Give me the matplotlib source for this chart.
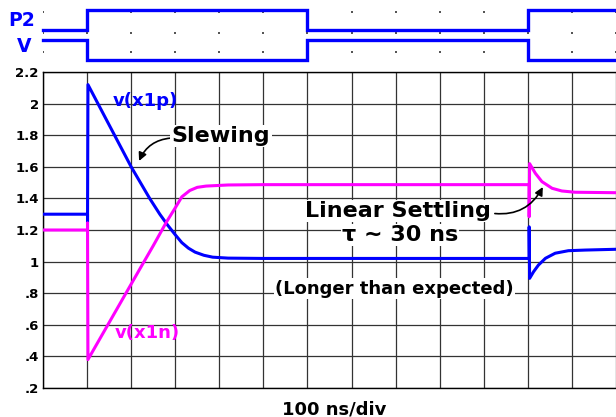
import matplotlib
matplotlib.use("Agg")
import matplotlib.pyplot as plt

plt.rcParams['font.family'] = ['DejaVu Sans']
plt.rcParams['font.weight'] = 'bold'

# control signals (logic levels), step changes in ns
ctrl_times = [0, 100, 600, 1100, 1300]
p2_level = [0, 1, 0, 1, 1]
v_level = [1, 0, 1, 0, 0]

# v(x1p), blue trace
t_x1p = [0, 101, 101, 102, 200, 242, 265, 283, 300, 315, 330, 345, 365, 385, 420, 500,
         1103, 1103, 1104, 1113, 1124, 1140, 1162, 1192, 1230, 1300]
v_x1p = [1.30, 1.30, 1.245, 2.12, 1.60, 1.40, 1.30, 1.23, 1.17, 1.12, 1.085, 1.06, 1.04, 1.028, 1.022, 1.02,
         1.02, 1.22, 0.894, 0.936, 0.978, 1.021, 1.053, 1.069, 1.073, 1.078]

# v(x1n), magenta trace
t_x1n = [0, 101, 101, 102, 219, 250, 280, 300, 315, 333, 350, 370, 420, 500,
         1103, 1103, 1104, 1117, 1132, 1155, 1177, 1207, 1300]
v_x1n = [1.20, 1.20, 1.245, 0.38, 0.95, 1.10, 1.25, 1.34, 1.41, 1.45, 1.47, 1.478, 1.485, 1.487,
         1.487, 1.284, 1.62, 1.559, 1.506, 1.464, 1.447, 1.439, 1.436]

x_ticks = list(range(0, 1301, 100))
y_ticks = [0.2, 0.4, 0.6, 0.8, 1.0, 1.2, 1.4, 1.6, 1.8, 2.0, 2.2]
y_labels = ['.2', '.4', '.6', '.8', '1', '1.2', '1.4', '1.6', '1.8', '2', '2.2']

W, H = 616, 417
fig = plt.figure(figsize=(W / 100, H / 100), dpi=100)

left = 43 / W
ax = fig.add_axes([left, 1 - 388 / H, 1 - left, (388 - 72) / H])
top = fig.add_axes([left, 1 - 72 / H, 1 - left, 72 / H])

# --- control signal panel ---
top.plot(ctrl_times, [p + 1.5 for p in p2_level], drawstyle='steps-post', color='#0000ff', lw=2.4,
         solid_joinstyle='miter', clip_on=False)
top.plot(ctrl_times, v_level, drawstyle='steps-post', color='#0000ff', lw=2.4,
         solid_joinstyle='miter', clip_on=False)
for yy in (2.4, 1.35, 0.4):
    top.scatter(x_ticks, [yy] * len(x_ticks), s=1.2, marker='s', color='#555555', lw=0, zorder=1)
top.set_xlim(0, 1300)
top.set_ylim(-0.6, 3.0)
top.axis('off')
fig.text(22 / W, 1 - 20 / H, 'P2', color='#0000ff', fontsize=13.5, ha='center', va='center')
fig.text(24 / W, 1 - 47 / H, 'V', color='#0000ff', fontsize=13.5, ha='center', va='center')

# --- analog panel ---
ax.plot(t_x1p, v_x1p, color='#0000ff', lw=2.2, zorder=3)
ax.plot(t_x1n, v_x1n, color='#ff00ff', lw=2.2, zorder=3)

ax.set_xlim(0, 1300)
ax.set_ylim(0.2, 2.2)
ax.set_xticks(x_ticks)
ax.set_xticklabels([])
ax.set_yticks(y_ticks)
ax.set_yticklabels(y_labels, fontsize=9.5, fontweight='bold')
ax.tick_params(length=0, pad=3)
ax.grid(True, color='#333333', lw=0.9)
ax.set_axisbelow(True)
for s in ('left', 'top', 'bottom'):
    ax.spines[s].set_color('black')
    ax.spines[s].set_linewidth(1.0)
ax.spines['right'].set_visible(False)

box = dict(facecolor='white', edgecolor='none', pad=1.0)

ax.text(159, 2.016, 'v(x1p)', color='#0000ff', fontsize=13, ha='left', va='center')
ax.text(163, 0.548, 'v(x1n)', color='#ff00ff', fontsize=13, ha='left', va='center')

ax.annotate('Slewing', xy=(218, 1.637), xytext=(404, 1.757), fontsize=16, ha='center', va='baseline',
            bbox=box, zorder=4,
            arrowprops=dict(arrowstyle='-|>', color='black', lw=1.2, mutation_scale=12,
                            shrinkA=0, shrinkB=0, connectionstyle='arc3,rad=0.3',
                            relpos=(0, 0.4)))

ax.annotate('Linear Settling', xy=(1134, 1.472), xytext=(805, 1.282), fontsize=16, ha='center',
            va='baseline', bbox=box, zorder=4,
            arrowprops=dict(arrowstyle='-|>', color='black', lw=1.2, mutation_scale=12,
                            shrinkA=2, shrinkB=0, connectionstyle='arc3,rad=0.35',
                            relpos=(1, 0.4)))
ax.text(810, 1.130, '\u03c4 ~ 30 ns', fontsize=16, ha='center', va='baseline', bbox=box, zorder=4)
ax.text(798, 0.827, '(Longer than expected)', fontsize=13, ha='center', va='center', bbox=box, zorder=4)

fig.text(334 / W, 1 - 414 / H, '100 ns/div', fontsize=13, ha='center', va='baseline')

fig.savefig('out.png', dpi=100)
